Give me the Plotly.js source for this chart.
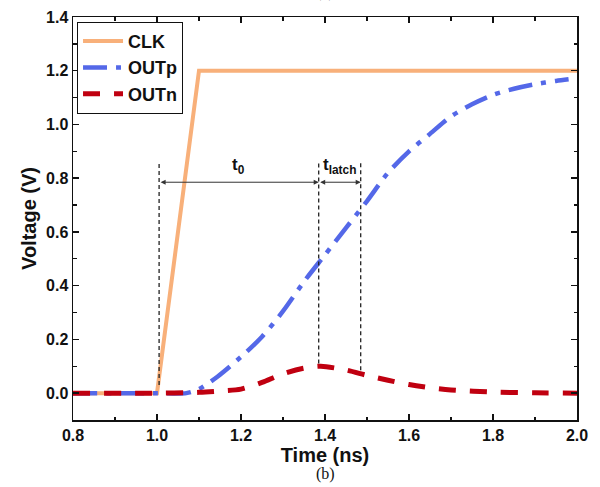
<!DOCTYPE html>
<html>
<head>
<meta charset="utf-8">
<script src="https://cdn.plot.ly/plotly-3.0.1.min.js"></script>
<style>html,body{margin:0;padding:0;background:#fff;}#chart{width:600px;height:487px;}</style>
</head>
<body>
<div id="chart"></div>
<script>
// ---- data ----
const clkT = [0.8, 1.0, 1.1, 2.0];
const clkV = [0, 0, 1.2, 1.2];

const outpT = [0.8, 0.9, 1.0, 1.07, 1.1, 1.143, 1.2, 1.25, 1.3, 1.35, 1.4, 1.45, 1.5, 1.55, 1.6, 1.65, 1.7, 1.75, 1.8, 1.85, 1.9, 1.95, 1.98];
const outpV = [0, 0, 0, 0, 0.015, 0.06, 0.135, 0.21, 0.305, 0.415, 0.515, 0.615, 0.715, 0.82, 0.9, 0.965, 1.03, 1.075, 1.11, 1.133, 1.15, 1.162, 1.168];

const outnT = [0.8, 1.0, 1.1, 1.15, 1.2, 1.25, 1.3, 1.35, 1.39, 1.45, 1.5, 1.55, 1.6, 1.65, 1.7, 1.8, 1.9, 2.0];
const outnV = [0, 0, 0.003, 0.008, 0.015, 0.04, 0.072, 0.093, 0.1, 0.086, 0.066, 0.048, 0.032, 0.02, 0.012, 0.004, 0.001, 0];

const seriesNames = ['CLK', 'OUTp', 'OUTn'];

// timing markers: start of t0, sampling point, end of tlatch
const markT = [1.005, 1.385, 1.485];
const markTop = [0.86, 0.86, 0.86];
const markBottom = [0.03, 0.11, 0.085];
const arrowV = [0.785];
const labelTexts = ['t<sub>0</sub>', 't<sub>latch</sub>'];
const labelV = [0.845];

const xTicks = [0.8, 1.0, 1.2, 1.4, 1.6, 1.8, 2.0];
const yTicks = [0.0, 0.2, 0.4, 0.6, 0.8, 1.0, 1.2, 1.4];

// ---- traces ----
const traces = [
  {x: clkT, y: clkV, name: seriesNames[0], mode: 'lines',
   line: {color: '#F8B07A', width: 4}},
  {x: outpT, y: outpV, name: seriesNames[1], mode: 'lines',
   line: {color: '#5468E8', width: 4.5, dash: '24px,9px,5px,9px', shape: 'spline', smoothing: 0.8}},
  {x: outnT, y: outnV, name: seriesNames[2], mode: 'lines',
   line: {color: '#C00010', width: 5, dash: '17px,14px', shape: 'spline', smoothing: 0.8}}
];

const shapes = markT.map((t, i) => ({
  type: 'line', xref: 'x', yref: 'y', x0: t, x1: t, y0: markBottom[i], y1: markTop[i],
  line: {color: '#222', width: 1.3, dash: '4px,3px'}
}));

const FAM = 'Liberation Sans, Arial, sans-serif';
const tickFont = {family: FAM, size: 16, color: '#111', weight: 'bold'};
const labelFont = {family: FAM, size: 17, color: '#111', weight: 'bold'};
const titleFont = {family: FAM, size: 20, color: '#111', weight: 'bold'};

const annotations = [];
for (let i = 0; i < markT.length - 1; i++) {
  annotations.push({
    xref: 'x', yref: 'y', axref: 'x', ayref: 'y',
    x: markT[i + 1], y: arrowV[0], ax: markT[i], ay: arrowV[0],
    text: '', showarrow: true, arrowhead: 2, startarrowhead: 2, arrowside: 'end+start',
    arrowsize: 1, startarrowsize: 1, arrowwidth: 1, arrowcolor: '#333', standoff: 0, startstandoff: 0
  });
  annotations.push({
    xref: 'x', yref: 'y', x: (markT[i] + markT[i + 1]) / 2, y: labelV[0],
    text: labelTexts[i], showarrow: false, font: labelFont, xanchor: 'center', yanchor: 'middle'
  });
}
annotations.push({xref: 'paper', yref: 'paper', x: 0.5, y: -0.135, xanchor: 'center', yanchor: 'middle',
  text: '(b)', showarrow: false, font: {family: 'Liberation Serif, Times New Roman, serif', size: 16, color: '#111'}});
annotations.push({xref: 'paper', yref: 'paper', x: 0.5, y: 1.035, xanchor: 'center', yanchor: 'bottom',
  text: '(a)', showarrow: false, font: {family: 'Liberation Serif, Times New Roman, serif', size: 16, color: '#111'}});

const axisCommon = {
  showline: true, linecolor: '#111', linewidth: 1.5, mirror: 'allticks',
  ticks: 'inside', ticklen: 6, tickwidth: 1.5, tickcolor: '#111',
  showgrid: false, zeroline: false, tickfont: tickFont,
  minor: {ticks: 'inside', ticklen: 3.5, tickwidth: 1.3, tickcolor: '#111', showgrid: false}
};

const layout = {
  width: 600, height: 487,
  margin: {l: 73, r: 23, t: 17, b: 67},
  paper_bgcolor: '#fff', plot_bgcolor: '#fff',
  showlegend: true,
  legend: {x: 0.008, y: 0.988, xanchor: 'left', yanchor: 'top', bgcolor: '#fff',
    bordercolor: '#111', borderwidth: 1,
    font: {family: FAM, size: 18, color: '#111', weight: 'bold'},
    tracegroupgap: 0, itemwidth: 40},
  xaxis: Object.assign({}, axisCommon, {
    range: [0.8, 2.0], tickvals: xTicks, ticktext: xTicks.map(v => v.toFixed(1)),
    minor: Object.assign({}, axisCommon.minor, {dtick: 0.1, tick0: 0.8}),
    title: {text: 'Time (ns)', font: titleFont, standoff: 2}
  }),
  yaxis: Object.assign({}, axisCommon, {
    range: [-0.1, 1.4], tickvals: yTicks, ticktext: yTicks.map(v => v.toFixed(1)),
    minor: Object.assign({}, axisCommon.minor, {dtick: 0.1, tick0: 0}),
    title: {text: 'Voltage (V)', font: titleFont, standoff: 4}
  }),
  shapes: shapes,
  annotations: annotations
};

Plotly.newPlot('chart', traces, layout, {displayModeBar: false, staticPlot: true});
</script>
</body>
</html>
